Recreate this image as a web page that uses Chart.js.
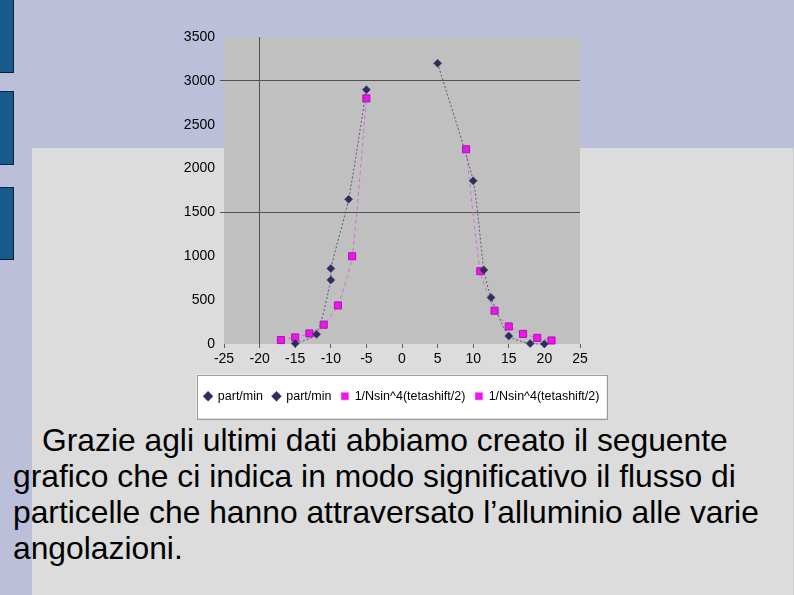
<!DOCTYPE html>
<html>
<head>
<meta charset="utf-8">
<script src="https://cdn.jsdelivr.net/npm/chart.js@4.4.1/dist/chart.umd.min.js"></script>
<style>
  html, body { margin:0; padding:0; }
  body { width:794px; height:595px; overflow:hidden; position:relative; background:#bbbfd9; font-family:"Liberation Sans", Arial, sans-serif; }
  .panel { position:absolute; left:32px; top:148px; width:761px; height:447px; background:#dcdcdc; border-right:1px solid #c8c8c8; }
  .bar { position:absolute; left:0; width:13px; background:#185a8c; border:1px solid #0c1f3c; border-left:none; }
  #wrap { position:absolute; left:170px; top:20px; width:464px; height:400px; }
  .txt { position:absolute; left:13px; top:422px; width:781px; font-size:31.8px; line-height:36px; color:#000; white-space:nowrap; }
  .txt .l1 { padding-left:29px; }
</style>
</head>
<body>
<div class="bar" style="top:-1px;height:72px;"></div>
<div class="bar" style="top:91px;height:72px;"></div>
<div class="bar" style="top:187px;height:71px;"></div>
<div class="panel"></div>
<div id="wrap"><canvas id="c" width="464" height="400"></canvas></div>
<div class="txt"><span class="l1">Grazie agli ultimi dati abbiamo creato il seguente</span><br>grafico che ci indica in modo significativo il flusso di<br>particelle che hanno attraversato l’alluminio alle varie<br>angolazioni.</div>
<script>
// ---- data ----
const seriesNames = ['part/min', 'part/min', '1/Nsin^4(tetashift/2)', '1/Nsin^4(tetashift/2)'];
const partNegX = [-15, -12, -10, -10, -7.5, -5];
const partNegY = [5, 110, 730, 860, 1650, 2900];
const partPosX = [5, 10, 11.5, 12.5, 15, 18, 20];
const partPosY = [3200, 1860, 845, 530, 90, 5, 0];
const invNegX = [-17, -15, -13, -11, -9, -7, -5];
const invNegY = [45, 75, 120, 220, 440, 1000, 2800];
const invPosX = [9, 11, 13, 15, 17, 19, 21];
const invPosY = [2220, 830, 380, 200, 115, 70, 40];
const xTicks = [-25, -20, -15, -10, -5, 0, 5, 10, 15, 20, 25];
const yTicks = [0, 500, 1000, 1500, 2000, 2500, 3000, 3500];
const xGridAt = [-20];
const yGridAt = [1500, 3000];

const zip = (xs, ys) => xs.map((x, i) => ({x: x, y: ys[i]}));
const FONT = '"Liberation Sans", Arial, sans-serif';

const NAVY = '#2e2e5e';
const NAVY_LINE = '#5a5a7e';
const MAG = '#f014f0';
const MAG_BORDER = '#b010b0';
const MAG_LINE = '#c877c8';

function navySet(label, data) {
  return { label, data, showLine: true, borderColor: NAVY_LINE, borderWidth: 1, borderDash: [2, 2],
    pointStyle: 'rectRot', pointRadius: 4, pointBackgroundColor: NAVY, pointBorderColor: NAVY,
    pointBorderWidth: 0.5, tension: 0.2, clip: false, _mk: NAVY };
}
function magSet(label, data) {
  return { label, data, showLine: true, borderColor: MAG_LINE, borderWidth: 1, borderDash: [4, 3],
    pointStyle: 'rect', pointRadius: 5, pointBackgroundColor: MAG, pointBorderColor: MAG_BORDER,
    pointBorderWidth: 1, tension: 0.2, clip: false, _mk: MAG };
}

const bgPlugin = {
  id: 'bg',
  beforeDraw(chart) {
    const {ctx, chartArea: a, legend} = chart;
    ctx.save();
    ctx.fillStyle = '#c0c0c0';
    ctx.fillRect(a.left, a.top, a.right - a.left, a.bottom - a.top);
    const hb = legend && legend.legendHitBoxes;
    if (hb && hb.length) {
      const l = Math.min(...hb.map(h => h.left)) - 8;
      const r = Math.max(...hb.map(h => h.left + h.width)) + 7;
      const t = hb[0].top - 15.5;
      const b = hb[0].top + hb[0].height + 15.5;
      ctx.fillStyle = '#ffffff';
      ctx.fillRect(l, t, r - l, b - t);
      ctx.strokeStyle = '#9a9a9a';
      ctx.lineWidth = 1;
      ctx.strokeRect(Math.round(l) + 0.5, Math.round(t) + 0.5, Math.round(r - l), Math.round(b - t));
    }
    ctx.restore();
  }
};

new Chart(document.getElementById('c'), {
  type: 'scatter',
  data: {
    datasets: [
      navySet(seriesNames[0], zip(partNegX, partNegY)),
      navySet(seriesNames[1], zip(partPosX, partPosY)),
      magSet(seriesNames[2], zip(invNegX, invNegY)),
      magSet(seriesNames[3], zip(invPosX, invPosY))
    ]
  },
  options: {
    responsive: false,
    animation: false,
    devicePixelRatio: 1,
    layout: { padding: { top: 17, bottom: 7.5, left: 0, right: 0 } },
    plugins: {
      tooltip: { enabled: false },
      legend: {
        position: 'bottom',
        labels: {
          usePointStyle: true, boxWidth: 7, boxHeight: 7, padding: 10,
          color: '#000', font: { family: FONT, size: 12.5 },
          generateLabels(chart) {
            const items = Chart.defaults.plugins.legend.labels.generateLabels(chart);
            return items.map(it => {
              const ds = chart.data.datasets[it.datasetIndex];
              it.fillStyle = ds._mk; it.strokeStyle = ds._mk; it.lineDash = []; it.lineWidth = 0.5;
              return it;
            });
          }
        }
      }
    },
    scales: {
      x: {
        type: 'linear', min: -25, max: 25,
        afterBuildTicks(s) { s.ticks = xTicks.map(v => ({value: v})); },
        afterFit(s) { s.height = 36; },
        border: { display: false },
        grid: {
          color: c => (c.tick && xGridAt.includes(c.tick.value)) ? '#505050' : 'rgba(0,0,0,0)',
          tickColor: '#606060', tickLength: 4, lineWidth: 1
        },
        ticks: { padding: 3, color: '#000', font: { family: FONT, size: 14 }, maxRotation: 0, autoSkip: false,
          callback: v => String(v) }
      },
      y: {
        type: 'linear', min: 0, max: 3500, position: 'left',
        afterBuildTicks(s) { s.ticks = yTicks.map(v => ({value: v})); },
        afterFit(s) { s.width = 54; },
        border: { display: false },
        grid: {
          color: c => (c.tick && yGridAt.includes(c.tick.value)) ? '#505050' : 'rgba(0,0,0,0)',
          tickColor: c => (c.tick && yGridAt.includes(c.tick.value)) ? '#505050' : 'rgba(0,0,0,0)',
          tickLength: 4, lineWidth: 1
        },
        ticks: { padding: 5, color: '#000', font: { family: FONT, size: 14 }, autoSkip: false,
          callback: v => String(v) }
      },
      y2: {
        type: 'linear', position: 'right', min: 0, max: 1,
        afterFit(s) { s.width = 54; },
        border: { display: false },
        grid: { display: false, drawTicks: false },
        ticks: { display: false }
      }
    }
  },
  plugins: [bgPlugin]
});
</script>
</body>
</html>
